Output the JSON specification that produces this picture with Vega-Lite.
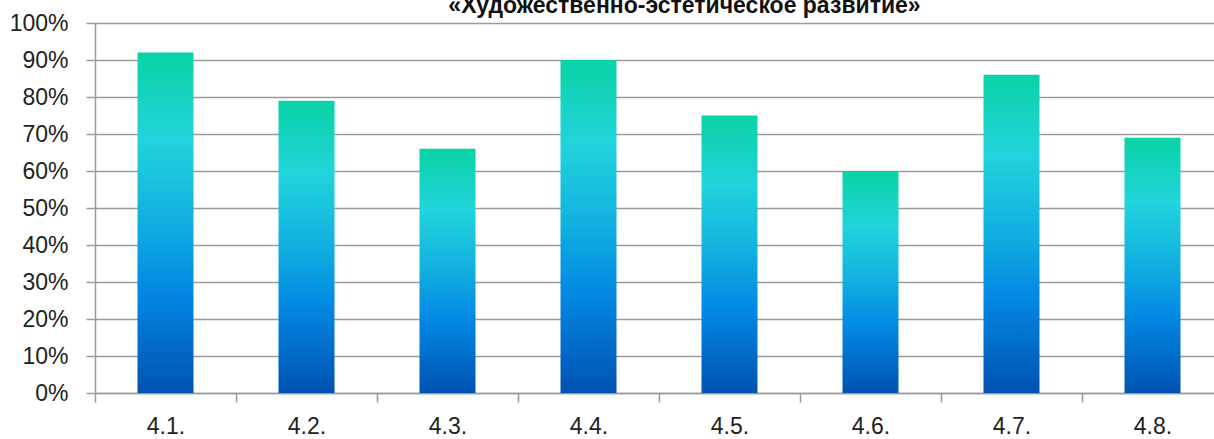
{
  "$schema": "https://vega.github.io/schema/vega-lite/v6.json",
  "width": 1119,
  "height": 370,
  "autosize": {"type": "none"},
  "padding": {"left": 95, "top": 23, "right": 0, "bottom": 46},
  "background": "white",
  "title": {
    "text": "«Художественно-эстетическое развитие»",
    "font": "Liberation Sans",
    "fontWeight": "bold",
    "fontSize": 23,
    "color": "#111111",
    "anchor": "middle",
    "frame": "group",
    "baseline": "alphabetic",
    "offset": -24,
    "dx": 30
  },
  "data": {
    "values": [
      {"cat": "4.1.", "value": 0.92},
      {"cat": "4.2.", "value": 0.79},
      {"cat": "4.3.", "value": 0.66},
      {"cat": "4.4.", "value": 0.90},
      {"cat": "4.5.", "value": 0.75},
      {"cat": "4.6.", "value": 0.60},
      {"cat": "4.7.", "value": 0.86},
      {"cat": "4.8.", "value": 0.69}
    ]
  },
  "mark": {
    "type": "bar",
    "width": 56,
    "color": {
      "gradient": "linear",
      "x1": 0, "y1": 0, "x2": 0, "y2": 1,
      "stops": [
        {"offset": 0, "color": "#08d3a5"},
        {"offset": 0.25, "color": "#22d4dc"},
        {"offset": 0.5, "color": "#10afe0"},
        {"offset": 0.7, "color": "#0388e4"},
        {"offset": 1, "color": "#0052b0"}
      ]
    }
  },
  "encoding": {
    "x": {
      "field": "cat",
      "type": "nominal",
      "sort": null,
      "scale": {"range": [0, 1128], "paddingInner": 0, "paddingOuter": 0},
      "axis": {
        "title": null,
        "labelAngle": 0,
        "tickBand": "extent",
        "labelFont": "Liberation Sans",
        "labelFontSize": 23,
        "labelColor": "#222222",
        "labelPadding": 13,
        "domainColor": "#9a9a9a",
        "domainWidth": 1.5,
        "tickColor": "#9a9a9a",
        "tickWidth": 1.5,
        "tickSize": 9,
        "grid": false
      }
    },
    "y": {
      "field": "value",
      "type": "quantitative",
      "scale": {"domain": [0, 1], "nice": false},
      "axis": {
        "title": null,
        "values": [0, 0.1, 0.2, 0.3, 0.4, 0.5, 0.6, 0.7, 0.8, 0.9, 1],
        "format": ".0%",
        "labelFont": "Liberation Sans",
        "labelFontSize": 23,
        "labelColor": "#222222",
        "labelPadding": 18,
        "domainColor": "#9a9a9a",
        "domainWidth": 1.5,
        "tickColor": "#9a9a9a",
        "tickWidth": 1.5,
        "tickSize": 9,
        "grid": true,
        "gridColor": "#9a9a9a",
        "gridWidth": 1.5
      }
    }
  },
  "config": {"view": {"stroke": null}}
}
